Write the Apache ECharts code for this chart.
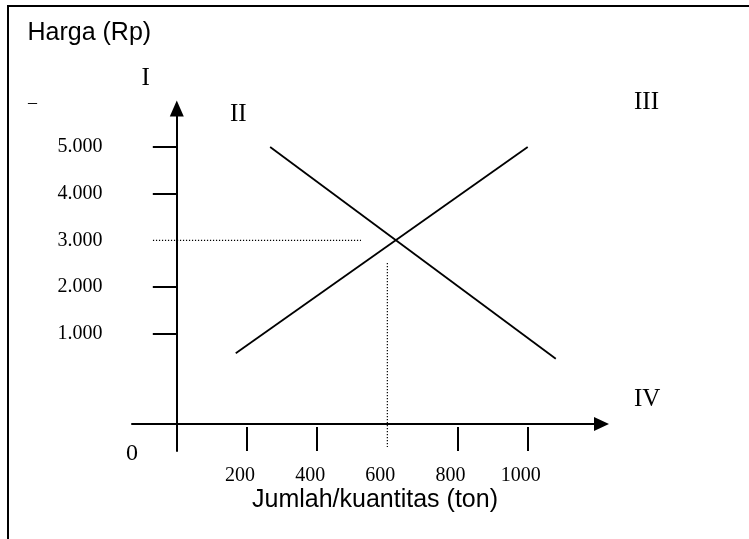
<!DOCTYPE html>
<html><head><meta charset="utf-8">
<script src="https://cdn.jsdelivr.net/npm/echarts@6/dist/echarts.min.js"></script>
<style>html,body{margin:0;padding:0;background:#fff}#c{width:749px;height:539px}</style>
</head><body><div id="c"></div>
<script>
// ---- data ----
const xTickValues = [200, 400, 600, 800, 1000];
const xTickMarks = [200, 400, 800, 1000];
const yTickValues = [1000, 2000, 3000, 4000, 5000];
const yTickMarks = [1000, 2000, 4000, 5000];
const supplyLine = [[168, 580], [1000, 5000]];
const demandLine = [[266, 5000], [1080, 465]];
const priceGuide = [[-68, 3000], [525, 3000]];
const qtyGuide = [[600, 2516], [600, -1427]];
const quadrantLabels = ['I', 'II', 'III', 'IV'];
const yTitle = 'Harga (Rp)';
const xTitle = 'Jumlah/kuantitas (ton)';
const originLabel = '0';
const xRange = [-127.7, 1210.3];
const yRange = [-1513, 5826];

const SERIF = '"Liberation Serif","Times New Roman",serif';
const SANS = '"Liberation Sans",Arial,sans-serif';

function fmtThousand(v) {
  return String(v).replace(/\B(?=(\d{3})+(?!\d))/g, '.');
}

const chart = echarts.init(document.getElementById('c'), null, {renderer: 'canvas'});

function txt(text, x, y, size, family, align) {
  return {
    type: 'text', silent: true,
    style: {text: text, x: x, y: y, font: size + 'px ' + family, fill: '#000',
            align: align || 'left', verticalAlign: 'middle'}
  };
}

const option = {
  backgroundColor: '#fff',
  animation: false,
  grid: {left: 132, right: 147.5, top: 108.5, bottom: 88, outerBoundsMode: 'none', containLabel: false},
  xAxis: [
    {
      type: 'value', min: xRange[0], max: xRange[1], position: 'bottom', offset: -27,
      axisLine: {show: true, onZero: false, symbol: ['none', 'triangle'], symbolSize: [14, 15],
                 lineStyle: {color: '#000', width: 2}},
      axisTick: {show: false}, axisLabel: {show: false}, splitLine: {show: false}
    },
    {
      type: 'value', min: xRange[0], max: xRange[1], position: 'bottom', offset: -24,
      axisLine: {show: false, onZero: false},
      axisTick: {show: true, length: 24, customValues: xTickMarks, lineStyle: {color: '#000', width: 2}},
      axisLabel: {show: true, customValues: xTickValues, margin: 39, color: '#000',
                  fontFamily: SERIF, fontSize: 20, padding: [0, 14, 0, 0],
                  formatter: function (v) { return String(v); }},
      splitLine: {show: false}
    }
  ],
  yAxis: {
    type: 'value', min: yRange[0], max: yRange[1],
    axisLine: {show: true, onZero: true, symbol: ['none', 'triangle'], symbolSize: [14, 16],
               lineStyle: {color: '#000', width: 2}},
    axisTick: {show: true, length: 24, customValues: yTickMarks, lineStyle: {color: '#000', width: 2}},
    axisLabel: {show: true, customValues: yTickValues, margin: 29.5, color: '#000',
                fontFamily: SERIF, fontSize: 20, formatter: fmtThousand},
    splitLine: {show: false}
  },
  series: [
    {type: 'line', data: supplyLine, showSymbol: false, symbol: 'none', silent: true,
     lineStyle: {color: '#000', width: 1.8}},
    {type: 'line', data: demandLine, showSymbol: false, symbol: 'none', silent: true,
     lineStyle: {color: '#000', width: 1.8}},
    {type: 'line', data: priceGuide, showSymbol: false, symbol: 'none', silent: true,
     lineStyle: {color: '#000', width: 1.2, type: [1.2, 1.8]}},
    {type: 'line', data: qtyGuide, showSymbol: false, symbol: 'none', silent: true,
     lineStyle: {color: '#000', width: 1.2, type: [1.2, 1.8]}}
  ],
  graphic: [
    {type: 'polyline', silent: true, shape: {points: [[8, 539], [8, 6], [749, 6]]},
     style: {stroke: '#000', lineWidth: 2, fill: null}},
    txt(yTitle, 27.5, 33, 25, SANS),
    txt(xTitle, 375, 500.5, 25, SANS, 'center'),
    txt(quadrantLabels[0], 141.5, 78.2, 25, SERIF),
    txt(quadrantLabels[1], 230, 114.8, 25, SERIF),
    txt(quadrantLabels[2], 634, 102.2, 25, SERIF),
    txt(quadrantLabels[3], 634, 399.8, 25, SERIF),
    txt(originLabel, 132, 453.5, 24, SERIF, 'center'),
    txt('\u2013', 28, 103.4, 18, SERIF)
  ]
};
chart.setOption(option);
</script>
</body></html>
